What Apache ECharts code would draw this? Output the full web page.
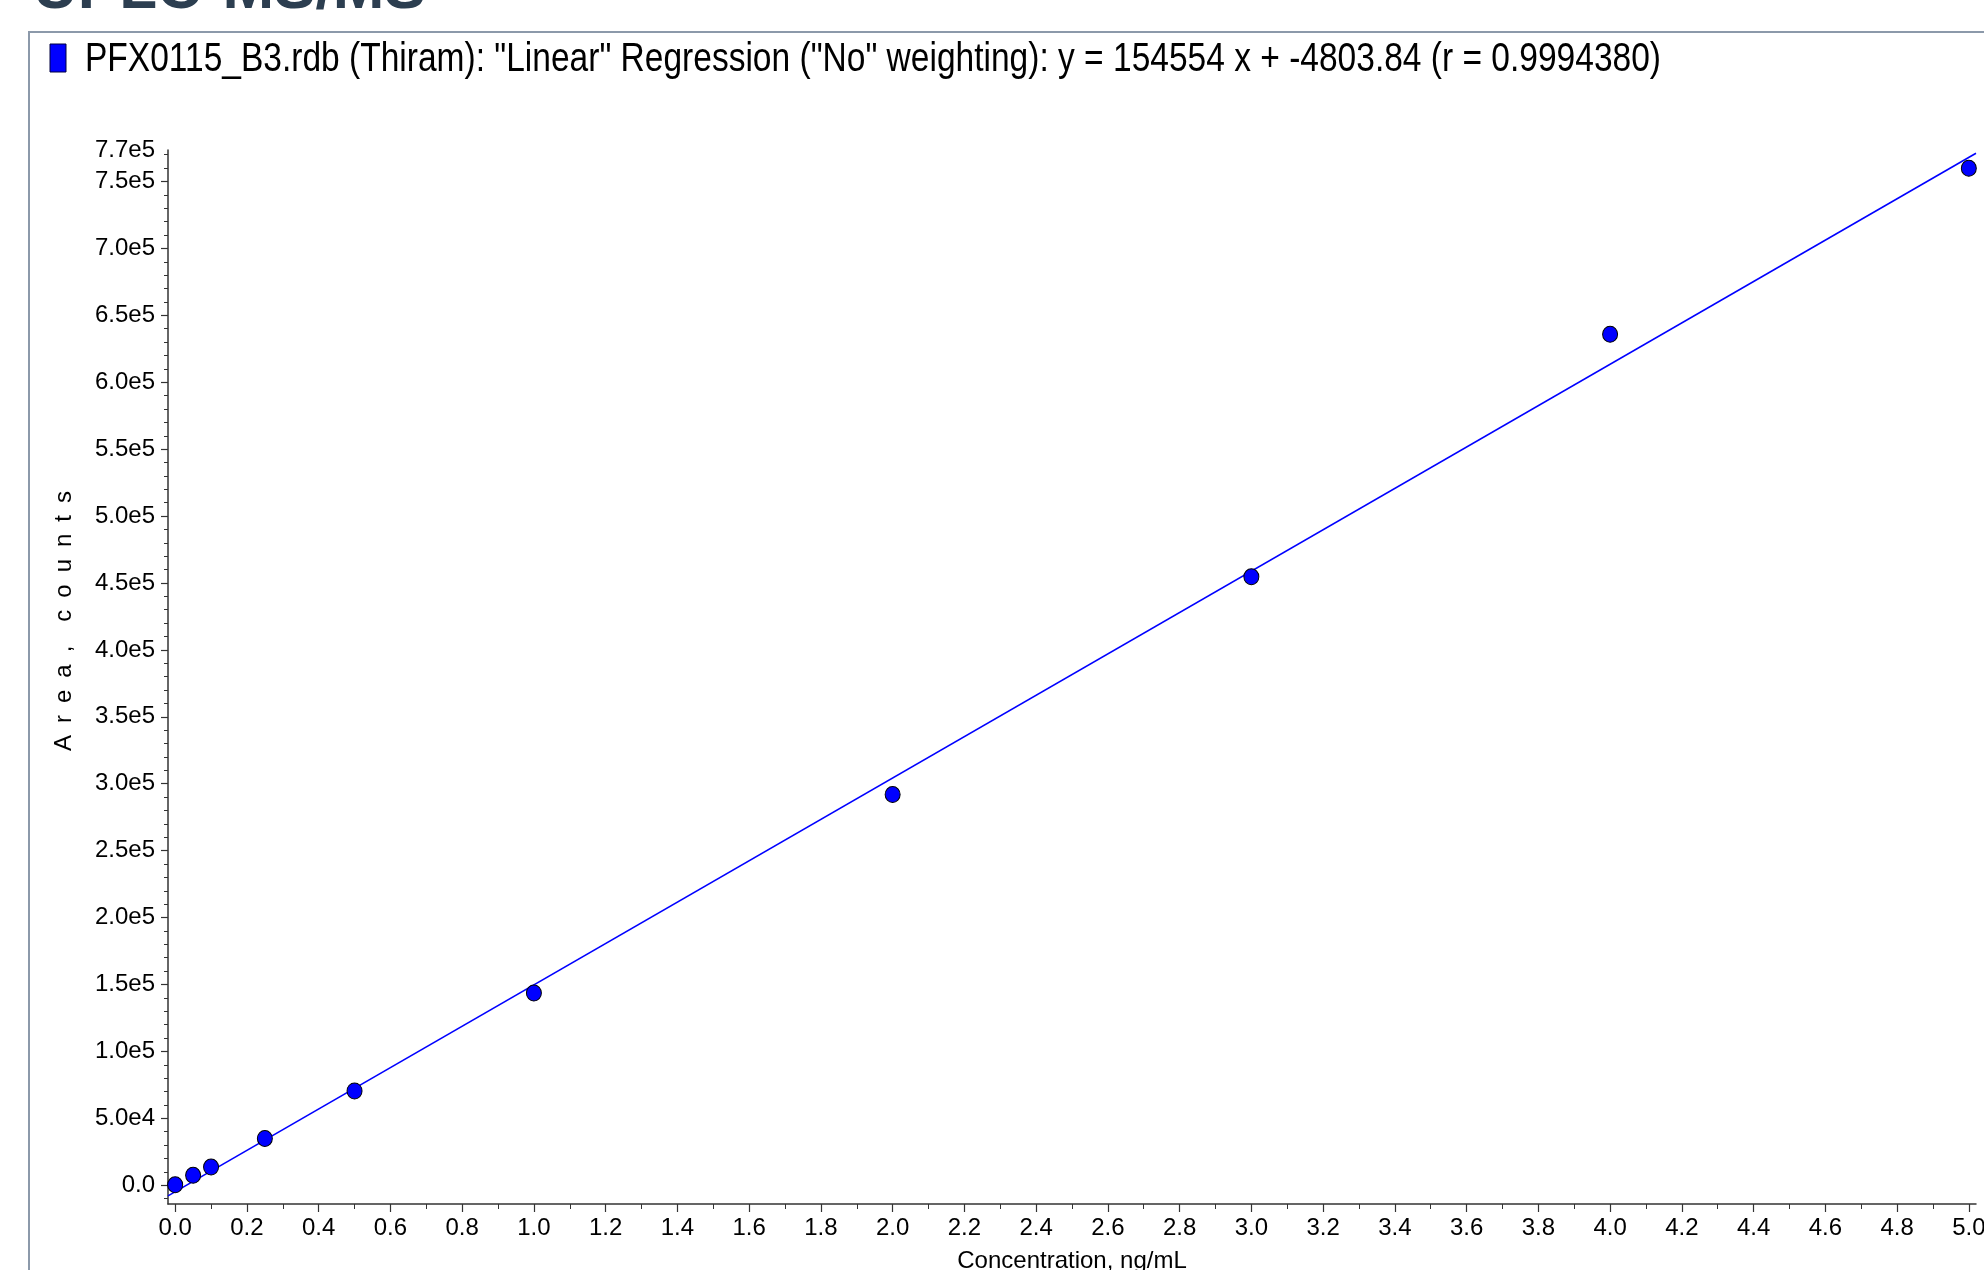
<!DOCTYPE html>
<html>
<head>
<meta charset="utf-8">
<script src="https://cdn.jsdelivr.net/npm/echarts@6/dist/echarts.min.js"></script>
<style>
    html, body { margin: 0; padding: 0; background: #fff; }
    #chart { width: 1984px; height: 1270px; }
</style>
</head>
<body>
<div id="chart"></div>
<script>
    // calibration points
    var concentration = [0, 0.05, 0.1, 0.25, 0.5, 1, 2, 3, 4, 5];
    var area = [400, 7500, 13700, 34900, 70500, 143600, 292000, 454700, 635800, 759900];

    // regression shown in the header
    var fitSlope = 154554;
    var fitIntercept = -4803.84;
    var fitR = 0.9994380;
    var fitRange = [-0.02, 5.02];

    // axis ticks
    var xTicks = [0, 0.2, 0.4, 0.6, 0.8, 1.0, 1.2, 1.4, 1.6, 1.8, 2.0, 2.2, 2.4, 2.6, 2.8, 3.0, 3.2, 3.4, 3.6, 3.8, 4.0, 4.2, 4.4, 4.6, 4.8, 5.0];
    var yTicks = [0, 50000, 100000, 150000, 200000, 250000, 300000, 350000, 400000, 450000, 500000, 550000, 600000, 650000, 700000, 750000];
    var yMin = -14000, yMax = 773500;
    var xMinorStep = 0.1, yMinorStep = 10000;

    var headerText = 'PFX0115_B3.rdb (Thiram): "Linear" Regression ("No" weighting): y = '
        + fitSlope + ' x + ' + fitIntercept + ' (r = ' + fitR.toFixed(7) + ')';

    function sci(v) {
        if (v === 0) return '0.0';
        var e = Math.floor(Math.log10(Math.abs(v)));
        return (v / Math.pow(10, e)).toFixed(1) + 'e' + e;
    }

    var xMinor = [], yMinor = [];
    for (var i = 0; i <= 50; i++) xMinor.push(+(i * xMinorStep).toFixed(2));
    for (var j = -1; j * yMinorStep <= yMax; j++) yMinor.push(j * yMinorStep);

    var points = concentration.map(function (c, k) { return [c, area[k]]; });
    var fitLine = fitRange.map(function (x) { return [x, fitSlope * x + fitIntercept]; });

    var sansFamily = '"Liberation Sans", Arial, sans-serif';
    var axisColor = '#333';
    var labelFont = { fontFamily: sansFamily, fontSize: 24, color: '#000' };

    // header is a narrow face in the original: squeeze regular sans to the same width
    var headerSize = 40;
    var ctx = document.createElement('canvas').getContext('2d');
    ctx.font = headerSize + 'px "Liberation Sans", Arial, sans-serif';
    var headerScale = 1576 / ctx.measureText(headerText).width;

    var myChart = echarts.init(document.getElementById('chart'));
    var option = {
        animation: false,
        backgroundColor: '#fff',
        grid: {
            left: 168,
            right: 8,
            top: 150,
            bottom: 66,
            outerBoundsMode: 'none'
        },
        xAxis: [
            {
                type: 'value',
                min: fitRange[0],
                max: fitRange[1],
                name: 'Concentration, ng/mL',
                nameLocation: 'middle',
                nameGap: 45,
                nameTextStyle: { fontFamily: sansFamily, fontSize: 24, color: '#000' },
                splitLine: { show: false },
                axisLine: { onZero: false, lineStyle: { color: axisColor, width: 1.5 } },
                axisTick: { customValues: xTicks, length: 8, lineStyle: { color: axisColor, width: 1.2 } },
                axisLabel: Object.assign({
                    customValues: xTicks,
                    margin: 12,
                    formatter: function (v) { return v.toFixed(1); }
                }, labelFont)
            },
            {
                // minor ticks
                type: 'value',
                position: 'bottom',
                min: fitRange[0],
                max: fitRange[1],
                splitLine: { show: false },
                axisLine: { show: false, onZero: false },
                axisTick: { customValues: xMinor, length: 5, lineStyle: { color: axisColor, width: 1 } },
                axisLabel: { show: false }
            }
        ],
        yAxis: [
            {
                type: 'value',
                min: yMin,
                max: yMax,
                splitLine: { show: false },
                axisLine: { show: true, onZero: false, lineStyle: { color: axisColor, width: 1.5 } },
                axisTick: { show: true, customValues: yTicks, length: 7, lineStyle: { color: axisColor, width: 1.2 } },
                axisLabel: Object.assign({
                    customValues: yTicks.concat([yMax]),
                    margin: 13,
                    formatter: sci
                }, labelFont)
            },
            {
                type: 'value',
                position: 'left',
                min: yMin,
                max: yMax,
                splitLine: { show: false },
                axisLine: { show: false, onZero: false },
                axisTick: { show: true, customValues: yMinor, length: 4, lineStyle: { color: axisColor, width: 1 } },
                axisLabel: { show: false }
            }
        ],
        graphic: [
            {
                type: 'rect',
                silent: true,
                shape: { x: 29, y: 32, width: 3000, height: 3000 },
                style: { fill: 'none', stroke: '#8c99aa', lineWidth: 2 }
            },
            {
                type: 'text',
                silent: true,
                x: 33,
                y: -9,
                style: {
                    text: 'UPLC-MS/MS',
                    fontFamily: sansFamily,
                    fontWeight: 'bold',
                    fontSize: 62,
                    fill: '#2c3e50',
                    verticalAlign: 'middle'
                }
            },
            {
                type: 'rect',
                silent: true,
                shape: { x: 50, y: 44, width: 16, height: 28 },
                style: { fill: '#0000ff', stroke: '#000040', lineWidth: 1 }
            },
            {
                type: 'text',
                silent: true,
                x: 85,
                y: 60,
                scaleX: headerScale,
                style: {
                    text: headerText,
                    fontFamily: sansFamily,
                    fontSize: headerSize,
                    fill: '#000',
                    verticalAlign: 'middle'
                }
            },
            {
                // y axis title, letter spaced as in the original
                type: 'text',
                silent: true,
                x: 64,
                y: 621,
                rotation: Math.PI / 2,
                style: {
                    text: 'A\u2002r\u2002e\u2002a\u2002,\u2002\u2002c\u2002o\u2002u\u2002n\u2002t\u2002s',
                    fontFamily: sansFamily,
                    fontSize: 24,
                    fill: '#000',
                    align: 'center',
                    verticalAlign: 'middle'
                }
            }
        ],
        series: [
            {
                type: 'line',
                data: fitLine,
                xAxisIndex: 0,
                yAxisIndex: 0,
                symbol: 'none',
                silent: true,
                z: 2,
                lineStyle: { color: '#0000ff', width: 1.6 }
            },
            {
                type: 'scatter',
                data: points,
                xAxisIndex: 0,
                yAxisIndex: 0,
                symbol: 'circle',
                symbolSize: [15, 16],
                z: 3,
                itemStyle: { color: '#0000ff', borderColor: '#000', borderWidth: 1, opacity: 1 }
            }
        ]
    };
    myChart.setOption(option, true);
</script>
</body>
</html>
